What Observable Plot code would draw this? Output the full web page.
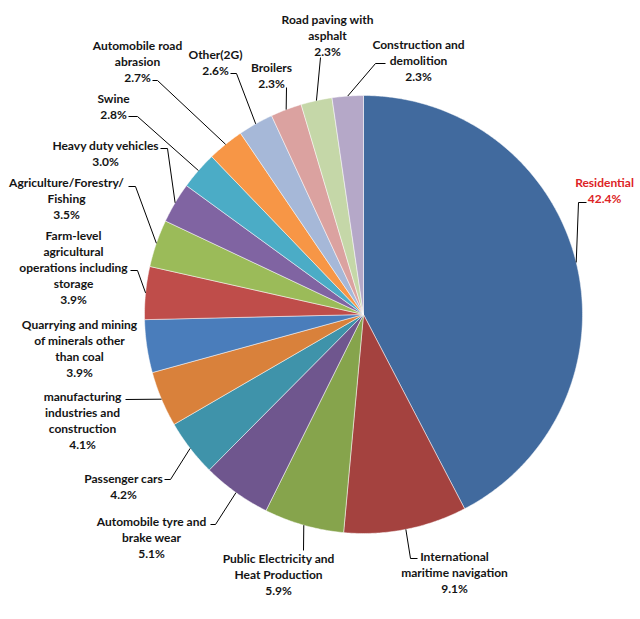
<!DOCTYPE html>
<html><head><meta charset="utf-8">
<script src="https://cdn.jsdelivr.net/npm/d3@7"></script>
<script src="https://cdn.jsdelivr.net/npm/@observablehq/plot@0.6"></script>
<style>
html,body{margin:0;padding:0;background:#fff;}
#chart svg{display:block;}
</style></head><body><div id="chart"></div>
<script>
// ---- data (clockwise from 12 o'clock) ----
const categories = [
  "Residential",
  "International maritime navigation",
  "Public Electricity and Heat Production",
  "Automobile tyre and brake wear",
  "Passenger cars",
  "manufacturing industries and construction",
  "Quarrying and mining of minerals other than coal",
  "Farm-level agricultural operations including storage",
  "Agriculture/Forestry/Fishing",
  "Heavy duty vehicles",
  "Swine",
  "Automobile road abrasion",
  "Other(2G)",
  "Broilers",
  "Road paving with asphalt",
  "Construction and demolition"
];
const shares = [42.4, 9.1, 5.9, 5.1, 4.2, 4.1, 3.9, 3.9, 3.5, 3.0, 2.8, 2.7, 2.6, 2.3, 2.3, 2.3];
const colors = [
  "#416A9E", "#A4423F", "#86A44C", "#6F568E", "#3F93AA", "#D9813B",
  "#4A7DBB", "#BF4D4A", "#9BBB59", "#8064A2", "#4BACC6", "#F79646",
  "#A6B8D8", "#DBA2A0", "#C5D7A8", "#B5A8C8"
];

// ---- layout ----
const CX = 363, CY = 314, R = 219;
const FONT = "Lato, 'Liberation Sans', sans-serif";
const FS = 12;
const wrapped = [
  "Residential",
  "International\nmaritime navigation",
  "Public Electricity and\nHeat Production",
  "Automobile tyre and\nbrake wear",
  "Passenger cars",
  "manufacturing\nindustries and\nconstruction",
  "Quarrying and mining\nof minerals other\nthan coal",
  "Farm-level\nagricultural\noperations including\nstorage",
  "Agriculture/Forestry/\nFishing",
  "Heavy duty vehicles",
  "Swine",
  "Automobile road\nabrasion",
  "Other(2G)",
  "Broilers",
  "Road paving with\nasphalt",
  "Construction and\ndemolition"
];
// label block centres (pixels)
const labelCenters = [
  [604, 189], [454, 571], [278, 573], [151, 536], [123, 485], [82, 419],
  [79, 347], [73, 266], [66, 197], [105, 152], [113, 105], [137, 60],
  [215, 61], [271, 74], [327, 34], [418, 59]
];
// leader bends after the slice-edge point (pixels); empty = no leader
const leaderBends = [
  [[578, 202], [586, 202]],
  [[410, 558], [417, 558]],
  [[303, 550]],
  [[215, 524], [210, 524]],
  [[170, 479], [164, 479]],
  [[125, 399]],
  [],
  [[137, 270], [130, 270]],
  [[135, 186], [128, 186]],
  [[167, 148], [160, 148]],
  [[137, 116], [128, 116]],
  [[157, 80], [152, 80]],
  [[236, 73], [230, 73]],
  [[286, 87]],
  [[320, 57]],
  [[375, 63], [385, 63]]
];

const ux = px => (px - CX) / R;
const uy = py => (CY - py) / R;

const arcs = d3.pie().sort(null).value(d => d)(shares);

// slice polygons in unit coordinates
const slicePts = [];
arcs.forEach((a, i) => {
  const cat = categories[i];
  slicePts.push({cat, x: 0, y: 0});
  const n = Math.max(2, Math.ceil((a.endAngle - a.startAngle) / (Math.PI / 360)));
  for (let k = 0; k <= n; k++) {
    const t = a.startAngle + (a.endAngle - a.startAngle) * k / n;
    slicePts.push({cat, x: Math.sin(t), y: Math.cos(t)});
  }
  slicePts.push({cat, x: 0, y: 0});
});

// leaders
const leaderPts = [];
arcs.forEach((a, i) => {
  if (!leaderBends[i].length) return;
  const m = (a.startAngle + a.endAngle) / 2;
  leaderPts.push({cat: categories[i], x: Math.sin(m), y: Math.cos(m)});
  leaderBends[i].forEach(([px, py]) => leaderPts.push({cat: categories[i], x: ux(px), y: uy(py)}));
});

const fmt = d3.format(".1f");
const labels = categories.map((c, i) => ({
  cat: c,
  text: wrapped[i] + "\n" + fmt(shares[i]) + "%",
  x: ux(labelCenters[i][0]),
  y: uy(labelCenters[i][1]),
  color: i === 0 ? "#DD2326" : "#141414"
}));

const chart = Plot.plot({
  width: 640,
  height: 619,
  margin: 0,
  style: {background: "#fff"},
  x: {type: "linear", domain: [-1, 1], range: [CX - R, CX + R], axis: null},
  y: {type: "linear", domain: [-1, 1], range: [CY + R, CY - R], axis: null},
  color: {domain: categories, range: colors},
  marks: [
    Plot.line(slicePts, {x: "x", y: "y", z: "cat", fill: "cat", stroke: "#ffffff", strokeWidth: 0.7, strokeOpacity: 0.7, curve: "linear"}),
    Plot.line(leaderPts, {x: "x", y: "y", z: "cat", stroke: "#000", strokeWidth: 1, strokeLinecap: "butt", strokeLinejoin: "miter", curve: "linear"}),
    Plot.text(labels, {
      x: "x", y: "y", text: "text", fill: d => d.color,
      fontFamily: FONT, fontSize: FS, fontWeight: "bold",
      lineHeight: 16 / FS, lineAnchor: "middle", textAnchor: "middle"
    })
  ]
});
document.getElementById("chart").appendChild(chart);
</script>
</body></html>
